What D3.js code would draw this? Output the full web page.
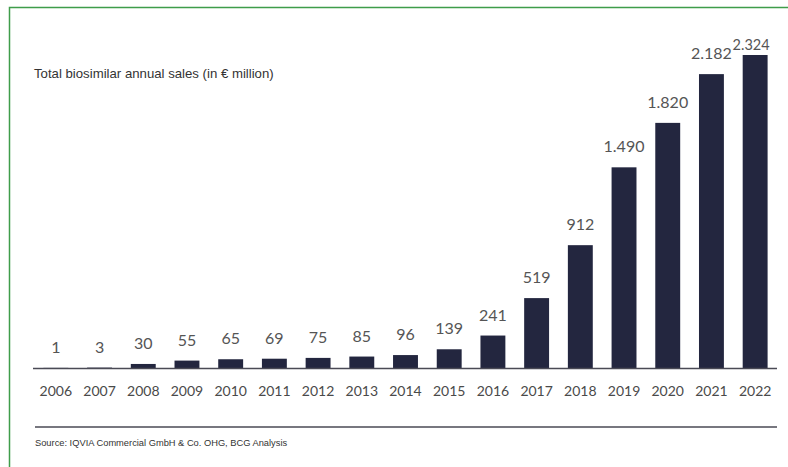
<!DOCTYPE html>
<html>
<head>
<meta charset="utf-8">
<script src="https://cdn.jsdelivr.net/npm/d3@7"></script>
<style>
  html, body { margin: 0; padding: 0; background: #fff; }
  svg { display: block; }
</style>
</head>
<body>
<div id="chart"></div>
<script>
// Biosimilar sales bar chart

const years = ['2006', '2007', '2008', '2009', '2010', '2011', '2012', '2013', '2014',
  '2015', '2016', '2017', '2018', '2019', '2020', '2021', '2022'];
const sales = [1, 3, 30, 55, 65, 69, 75, 85, 96, 139, 241, 519, 912, 1490, 1820, 2182, 2324];
const valueLabels = ['1', '3', '30', '55', '65', '69', '75', '85', '96', '139', '241', '519',
  '912', '1.490', '1.820', '2.182', '2.324'];

const title = 'Total biosimilar annual sales (in € million)';
const source = 'Source: IQVIA Commercial GmbH & Co. OHG, BCG Analysis';

const width = 788;
const height = 467;
const baseY = 368;

const svg = d3.select('#chart')
  .append('svg')
  .attr('width', width)
  .attr('height', height);

// green frame (open to the right and bottom)
svg.append('path')
  .attr('d', `M9.5,${height} V7.5 H${width}`)
  .attr('fill', 'none')
  .attr('stroke', '#3f9d4a')
  .attr('stroke-width', 1.5);

const x = d3.scaleBand()
  .domain(years)
  .range([34, 777])
  .paddingInner(0.43)
  .paddingOuter(0.215);

const y = d3.scaleLinear()
  .domain([0, 2324])
  .range([baseY, 55]);

const data = years.map((yr, i) => ({ yr, v: sales[i], label: valueLabels[i] }));

// bars
svg.selectAll('.bar')
  .data(data)
  .join('rect')
  .attr('class', 'bar')
  .attr('x', d => x(d.yr))
  .attr('y', d => y(d.v))
  .attr('width', x.bandwidth())
  .attr('height', d => baseY - y(d.v))
  .attr('fill', '#23263f');

// value labels (last one squeezed in above its bar)
const last = data.length - 1;
svg.selectAll('.val')
  .data(data)
  .join('text')
  .attr('class', 'val')
  .attr('x', (d, i) => x(d.yr) + x.bandwidth() / 2 - (i === last ? 4 : 0))
  .attr('y', (d, i) => y(d.v) - (i === last ? 5 : 15))
  .attr('text-anchor', 'middle')
  .attr('font-family', 'Lato, "Open Sans", sans-serif')
  .attr('font-size', (d, i) => i === last ? '14.5px' : '16px')
  .attr('fill', '#555')
  .text(d => d.label);

// baseline axis
svg.append('line')
  .attr('x1', 33).attr('x2', 777)
  .attr('y1', baseY + 0.5).attr('y2', baseY + 0.5)
  .attr('stroke', '#4a4a55')
  .attr('stroke-width', 1.5);

// year labels
svg.selectAll('.yr')
  .data(years)
  .join('text')
  .attr('class', 'yr')
  .attr('x', d => x(d) + x.bandwidth() / 2)
  .attr('y', 396)
  .attr('text-anchor', 'middle')
  .attr('font-family', 'Lato, "Open Sans", sans-serif')
  .attr('font-size', '14px')
  .attr('fill', '#4a4a4a')
  .text(d => d);

// title
svg.append('text')
  .attr('x', 34)
  .attr('y', 78)
  .attr('font-family', '"Liberation Sans", Arial, sans-serif')
  .attr('font-size', '13.2px')
  .attr('fill', '#333')
  .text(title);

// source rule + note
svg.append('line')
  .attr('x1', 35).attr('x2', 777)
  .attr('y1', 427).attr('y2', 427)
  .attr('stroke', '#4a4a55')
  .attr('stroke-width', 1.5);

svg.append('text')
  .attr('x', 35)
  .attr('y', 446)
  .attr('font-family', '"Liberation Sans", Arial, sans-serif')
  .attr('font-size', '9.3px')
  .attr('fill', '#333')
  .text(source);
</script>
</body>
</html>
